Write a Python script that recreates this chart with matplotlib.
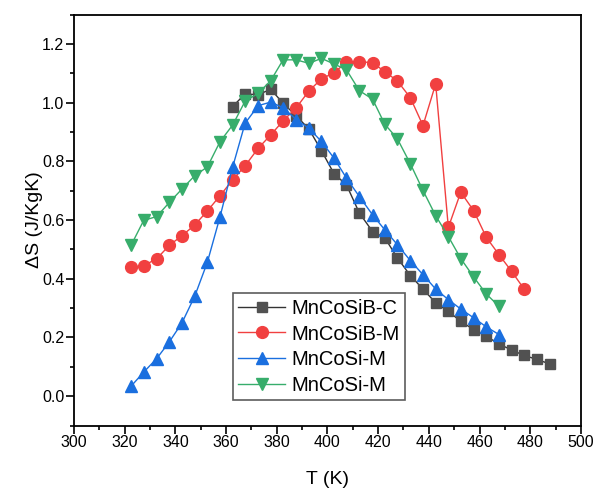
import matplotlib
matplotlib.use("Agg")
import matplotlib.pyplot as plt
from matplotlib.ticker import MultipleLocator

# temperatures (K)
t_sibc = [362.6, 367.5, 372.7, 377.6, 382.5, 387.7, 392.7, 397.6, 402.6, 407.5,
          412.6, 417.8, 422.6, 427.6, 432.7, 437.7, 442.7, 447.7, 452.6, 457.7,
          462.7, 467.7, 472.7, 477.6, 482.7, 487.7]
t_sibm = [322.5, 327.5, 332.6, 337.6, 342.6, 347.6, 352.6, 357.6, 362.6, 367.5,
          372.7, 377.6, 382.5, 387.7, 392.7, 397.6, 402.6, 407.5, 412.6, 417.8,
          422.6, 427.6, 432.7, 437.7, 442.7, 447.7, 452.6, 457.7, 462.7, 467.7,
          472.7, 477.6]
t_si = [322.5, 327.5, 332.6, 337.6, 342.6, 347.6, 352.6, 357.6, 362.6, 367.5,
        372.7, 377.6, 382.5, 387.7, 392.7, 397.6, 402.6, 407.5, 412.6, 417.8,
        422.6, 427.6, 432.7, 437.7, 442.7, 447.7, 452.6, 457.7, 462.7, 467.7]

# entropy change (J/KgK)
ds_sibc = [0.987, 1.030, 1.027, 1.046, 0.998, 0.955, 0.910, 0.837, 0.758, 0.720,
           0.624, 0.561, 0.540, 0.471, 0.411, 0.365, 0.318, 0.289, 0.255, 0.227,
           0.204, 0.178, 0.157, 0.139, 0.125, 0.110]
ds_sibm = [0.439, 0.445, 0.468, 0.514, 0.547, 0.583, 0.631, 0.683, 0.737, 0.785,
           0.845, 0.890, 0.938, 0.983, 1.040, 1.081, 1.102, 1.138, 1.140, 1.136,
           1.106, 1.074, 1.017, 0.922, 1.064, 0.575, 0.695, 0.632, 0.541, 0.482,
           0.425, 0.365]
ds_si_a = [0.034, 0.082, 0.128, 0.185, 0.250, 0.340, 0.456, 0.611, 0.781, 0.930,
           0.990, 1.002, 0.983, 0.942, 0.913, 0.868, 0.811, 0.743, 0.680, 0.618,
           0.567, 0.516, 0.462, 0.414, 0.365, 0.329, 0.297, 0.267, 0.236, 0.210]
ds_si_b = [0.514, 0.599, 0.612, 0.660, 0.706, 0.751, 0.781, 0.867, 0.924, 1.005,
           1.032, 1.075, 1.146, 1.146, 1.134, 1.151, 1.132, 1.112, 1.041, 1.012,
           0.927, 0.877, 0.792, 0.701, 0.615, 0.544, 0.469, 0.406, 0.348, 0.306]

plt.rcParams["font.family"] = ["Liberation Sans", "DejaVu Sans"]

fig = plt.figure(figsize=(5.97, 4.88), dpi=100)
ax = fig.add_axes([0.124, 0.128, 0.849, 0.842])

ax.plot(t_sibc, ds_sibc, color="#333333", lw=1.0, marker="s", ms=7,
        mfc="#515151", mec="#515151", label="MnCoSiB-C")
ax.plot(t_sibm, ds_sibm, color="#F14040", lw=1.0, marker="o", ms=8.5,
        mec="#F14040", label="MnCoSiB-M")
ax.plot(t_si, ds_si_a, color="#1A6FDF", lw=1.0, marker="^", ms=8.5,
        mec="#1A6FDF", label="MnCoSi-M")
ax.plot(t_si, ds_si_b, color="#37AD6B", lw=1.0, marker="v", ms=8.5,
        mec="#37AD6B", label="MnCoSi-M")

ax.set_xlim(300, 500)
ax.set_ylim(-0.1, 1.3)
ax.xaxis.set_major_locator(MultipleLocator(20))
ax.xaxis.set_minor_locator(MultipleLocator(10))
ax.yaxis.set_minor_locator(MultipleLocator(0.1))
ax.set_yticks([0.0, 0.2, 0.4, 0.6, 0.8, 1.0, 1.2])
ax.yaxis.set_major_formatter(plt.FormatStrFormatter("%.1f"))

ax.tick_params(which="major", direction="out", length=5.5, width=1.2,
               labelsize=11.5, pad=1.5)
ax.tick_params(which="minor", direction="out", length=3, width=1.2)
for s in ax.spines.values():
    s.set_linewidth(1.3)

ax.set_xlabel("T (K)", fontsize=14, labelpad=15)
ax.set_ylabel("ΔS (J/KgK)", fontsize=14, labelpad=-1)

leg = ax.legend(loc="lower left", bbox_to_anchor=(0.314, 0.061), fontsize=14.5,
                frameon=True, fancybox=False, handlelength=2.3,
                borderpad=0.26, labelspacing=0.34, handletextpad=0.33,
                borderaxespad=0)
leg.get_frame().set_edgecolor("#333333")
leg.get_frame().set_linewidth(1.2)

fig.savefig("out.png", dpi=100)
